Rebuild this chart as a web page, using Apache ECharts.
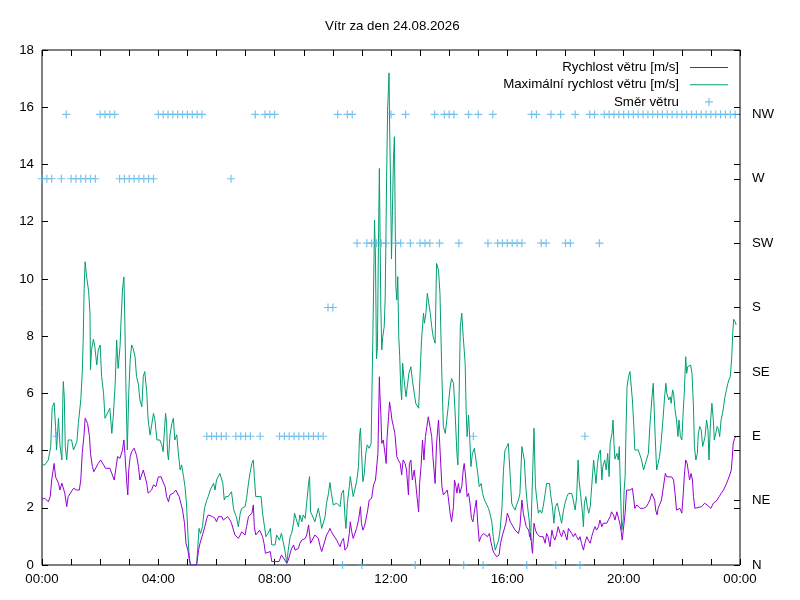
<!DOCTYPE html>
<html>
<head>
<meta charset="utf-8">
<title>Vítr za den 24.08.2026</title>
<script src="https://cdn.jsdelivr.net/npm/echarts@6/dist/echarts.min.js"></script>
<style>
    html, body { margin: 0; padding: 0; background: #fff; }
    #vitr { width: 800px; height: 600px; }
</style>
</head>
<body>
<div id="vitr"></div>
<script>
// ---- data (minute of day, m/s) -----------------------------------------
var avgSpeed = [
    [0, 2.3], [6, 2.33], [13, 2.21], [17, 2.39], [20, 2.97], [25, 3.55], [28, 3.08], [34, 2.86],
    [37, 2.62], [41, 2.86], [44, 2.86], [47, 2.51], [51, 2.04], [54, 2.39], [58, 2.45], [65, 2.68],
    [72, 2.62], [77, 2.62], [80, 2.97], [83, 3.9], [87, 4.6], [89, 5.13], [94, 4.95], [98, 4.49],
    [100, 3.9], [104, 3.44], [107, 3.26], [111, 3.2], [116, 3.55], [121, 3.67], [127, 3.5], [131, 3.38],
    [140, 3.38], [144, 3.2], [149, 2.97], [153, 3.44], [156, 3.79], [161, 3.73], [166, 4.02], [169, 4.37],
    [171, 3.9], [175, 2.86], [177, 2.45], [179, 3.32], [182, 3.79], [185, 3.96], [190, 4.08], [195, 3.84],
    [199, 3.44], [202, 2.97], [206, 3.03], [209, 3.32], [212, 3.32], [216, 2.86], [219, 2.51], [226, 2.62],
    [230, 2.8], [235, 2.74], [240, 3.08], [246, 3.08], [248, 2.97], [254, 2.74], [257, 2.39], [261, 2.21],
    [264, 2.45], [271, 2.51], [276, 2.62], [279, 2.68], [283, 2.39], [287, 2.33], [290, 1.92], [294, 1.46],
    [297, 0.76], [301, 0.52], [304, 0.17], [307, 0], [319, 0], [323, 0.52], [326, 0.76], [330, 0.99],
    [333, 1.16], [336, 1.34], [340, 1.63], [343, 1.75], [347, 1.75], [352, 1.69], [357, 1.63], [360, 1.51],
    [364, 1.69], [367, 1.75], [371, 1.69], [374, 1.57], [378, 1.51], [383, 1.69], [388, 1.57], [391, 1.46],
    [395, 1.22], [398, 1.05], [401, 0.99], [405, 0.93], [409, 1.05], [412, 1.16], [416, 1.11], [419, 1.05],
    [422, 1.34], [426, 1.69], [429, 1.63], [433, 1.81], [436, 2.1], [438, 1.34], [441, 1.05], [445, 1.11],
    [449, 1.22], [452, 1.28], [455, 0.99], [458, 0.76], [461, 0.41], [471, 0.47], [474, 0.12], [489, 0.12],
    [494, 0.35], [501, 0.17], [505, 0.06], [508, 0.17], [512, 0.41], [515, 0.58], [519, 0.7], [522, 0.52],
    [525, 0.47], [529, 0.58], [532, 0.76], [536, 0.87], [543, 0.93], [546, 1.05], [550, 1.4], [552, 1.46],
    [554, 0.76], [558, 0.7], [563, 1.05], [567, 1.1], [570, 0.93], [574, 0.64], [577, 0.47], [580, 0.64],
    [584, 0.87], [587, 1.05], [591, 1.16], [594, 1.28], [597, 1.16], [601, 1.05], [604, 0.99], [608, 0.87],
    [611, 0.76], [615, 0.64], [618, 0.82], [622, 0.93], [625, 0.52], [627, 0.47], [630, 0.64], [634, 1.1],
    [636, 1.51], [639, 1.16], [642, 0.93], [646, 0.99], [649, 1.28], [653, 1.57], [657, 2.04], [659, 1.46],
    [662, 1.22], [665, 1.34], [668, 1.57], [672, 1.92], [675, 2.27], [680, 2.33], [684, 2.8], [688, 2.97],
    [691, 3.03], [693, 3.9], [695, 5.65], [696, 6.58], [697, 6.0], [699, 5.3], [701, 4.25], [704, 4.37],
    [708, 3.84], [710, 3.55], [712, 4.49], [715, 5.18], [717, 5.7], [719, 5.48], [722, 5.07], [725, 4.84],
    [728, 4.6], [732, 3.79], [735, 3.67], [739, 3.55], [742, 3.15], [745, 3.67], [749, 3.55], [752, 3.32],
    [756, 2.45], [758, 3.55], [761, 3.67], [764, 2.97], [768, 3.32], [771, 2.85], [775, 2.16], [777, 1.86],
    [779, 2.85], [782, 3.44], [785, 4.37], [788, 3.67], [791, 4.49], [794, 4.84], [797, 5.18], [800, 5.24],
    [804, 4.49], [807, 3.67], [811, 2.85], [814, 4.25], [818, 5.07], [821, 5.13], [825, 2.74], [828, 2.45],
    [832, 2.51], [836, 2.62], [838, 2.39], [842, 1.81], [845, 1.51], [849, 2.04], [851, 2.97], [854, 2.74],
    [856, 2.51], [859, 2.85], [862, 2.51], [866, 2.74], [869, 3.32], [871, 3.55], [874, 3.08], [877, 2.39],
    [880, 2.51], [883, 2.16], [886, 1.63], [889, 1.51], [893, 1.98], [896, 2.27], [899, 1.46], [902, 0.82],
    [906, 1.0], [911, 1.1], [915, 1.1], [919, 0.99], [923, 1.1], [926, 0.82], [930, 0.52], [933, 0.41],
    [938, 0.29], [943, 0.35], [946, 0.76], [950, 1.05], [953, 1.22], [957, 1.46], [960, 1.81], [964, 1.63],
    [966, 1.51], [969, 1.46], [972, 1.34], [976, 1.22], [979, 1.16], [983, 1.1], [986, 1.34], [990, 2.27],
    [993, 1.81], [996, 1.57], [999, 1.34], [1004, 1.22], [1006, 0.99], [1008, 1.1], [1011, 0.52], [1012, 0.41],
    [1015, 1.46], [1018, 1.22], [1021, 1.1], [1027, 0.99], [1034, 0.99], [1038, 0.76], [1041, 1.1], [1044, 0.99],
    [1048, 0.64], [1052, 1.22], [1055, 0.99], [1058, 0.87], [1062, 1.1], [1065, 1.34], [1069, 1.1], [1072, 0.99],
    [1076, 1.22], [1079, 1.1], [1083, 0.87], [1086, 1.28], [1089, 1.28], [1093, 1.1], [1096, 0.99], [1100, 1.1],
    [1103, 0.99], [1107, 0.87], [1110, 0.99], [1113, 0.76], [1117, 0.52], [1120, 0.76], [1124, 0.99], [1127, 0.87],
    [1131, 0.76], [1134, 0.99], [1138, 1.22], [1141, 1.34], [1144, 1.22], [1148, 1.34], [1151, 1.57], [1155, 1.34],
    [1158, 1.46], [1162, 1.51], [1165, 1.46], [1169, 1.51], [1172, 1.69], [1175, 1.86], [1179, 1.75], [1182, 1.57],
    [1186, 1.86], [1189, 1.86], [1192, 1.46], [1195, 1.16], [1197, 0.87], [1200, 0.87], [1203, 1.81], [1206, 2.62],
    [1213, 2.62], [1218, 2.68], [1221, 2.27], [1223, 1.98], [1227, 2.1], [1234, 1.98], [1241, 1.98], [1247, 2.04],
    [1251, 2.16], [1254, 2.27], [1258, 2.5], [1261, 2.56], [1264, 2.27], [1266, 1.92], [1269, 1.75], [1271, 1.98],
    [1274, 2.1], [1278, 2.27], [1281, 2.62], [1286, 3.2], [1289, 3.08], [1299, 3.08], [1303, 2.97], [1306, 2.5],
    [1309, 1.92], [1313, 1.86], [1316, 1.98], [1320, 1.81], [1323, 2.5], [1325, 3.08], [1328, 3.67], [1331, 3.55],
    [1334, 3.2], [1336, 2.97], [1339, 3.2], [1342, 2.97], [1344, 2.39], [1347, 1.98], [1361, 2.04], [1367, 2.16],
    [1372, 2.1], [1376, 2.04], [1380, 1.98], [1385, 2.16], [1389, 2.21], [1393, 2.27], [1397, 2.39], [1401, 2.5],
    [1406, 2.62], [1411, 2.8], [1415, 2.97], [1419, 3.15], [1422, 3.32], [1424, 3.73], [1426, 4.25], [1429, 4.43],
    [1432, 4.49]
];

var maxSpeed = [
    [0, 3.5], [6, 3.5], [13, 3.67], [18, 4.14], [21, 5.5], [25, 5.67], [28, 4.84], [30, 4.02],
    [34, 5.13], [37, 4.2], [41, 3.67], [43, 5.77], [44, 6.41], [46, 5.85], [48, 4.14], [51, 3.67],
    [54, 4.37], [61, 4.37], [65, 4.02], [72, 4.31], [75, 4.95], [80, 5.77], [83, 6.7], [85, 7.86],
    [87, 9.67], [89, 10.6], [92, 10.07], [96, 9.6], [99, 8.8], [100, 6.82], [102, 7.5], [106, 7.89],
    [109, 7.63], [113, 6.99], [116, 7.51], [120, 7.69], [123, 6.59], [127, 6.0], [130, 5.13], [133, 5.07],
    [140, 5.48], [144, 4.6], [147, 5.18], [151, 6.35], [154, 7.86], [157, 6.87], [161, 7.63], [163, 8.5],
    [166, 9.61], [169, 10.07], [171, 8.45], [173, 6.35], [176, 4.02], [179, 6.0], [182, 7.2], [185, 7.69],
    [188, 7.57], [192, 7.28], [195, 6.59], [199, 6.3], [202, 5.77], [206, 5.53], [209, 6.59], [212, 6.76],
    [216, 6.06], [219, 5.07], [223, 4.54], [226, 4.49], [230, 5.3], [233, 5.07], [237, 4.37], [243, 4.37],
    [247, 4.2], [250, 3.96], [252, 4.55], [255, 5.3], [257, 4.95], [259, 3.9], [261, 3.67], [264, 4.54],
    [268, 4.95], [271, 5.13], [274, 4.37], [278, 4.55], [281, 3.96], [285, 3.32], [288, 3.5], [292, 3.09],
    [295, 2.74], [298, 2.16], [301, 1.1], [303, 0.47], [306, 0], [319, 0], [321, 0.52], [324, 1.28],
    [327, 1.1], [331, 1.34], [334, 1.81], [336, 2.04], [340, 2.27], [343, 2.39], [347, 2.62], [350, 2.62],
    [354, 2.86], [357, 2.62], [360, 2.97], [364, 3.03], [367, 3.2], [371, 3.26], [373, 2.86], [376, 2.27],
    [379, 2.39], [384, 2.39], [388, 2.45], [391, 2.56], [395, 1.98], [398, 1.81], [401, 1.69], [405, 1.34],
    [409, 1.81], [412, 1.98], [419, 2.04], [422, 2.33], [426, 2.86], [429, 3.2], [433, 3.55], [436, 3.67],
    [438, 3.09], [441, 2.39], [452, 2.39], [455, 1.81], [459, 1.34], [462, 0.99], [468, 1.16], [471, 1.28],
    [474, 0.7], [481, 0.7], [484, 1.05], [490, 0.87], [494, 1.11], [498, 1.05], [501, 0.52], [505, 0.06],
    [508, 0.52], [512, 0.99], [515, 1.11], [519, 1.46], [521, 1.81], [524, 1.63], [529, 1.34], [532, 1.75],
    [536, 1.51], [539, 1.75], [543, 1.63], [546, 2.16], [550, 2.86], [552, 3.09], [554, 1.86], [557, 1.75],
    [563, 1.51], [567, 1.57], [570, 1.98], [574, 1.63], [577, 1.28], [580, 1.34], [584, 1.69], [587, 2.16],
    [591, 2.5], [594, 2.88], [597, 2.5], [601, 2.1], [608, 2.16], [615, 2.04], [618, 2.5], [622, 2.62],
    [625, 1.69], [627, 1.28], [630, 2.16], [634, 2.74], [636, 3.09], [639, 2.74], [642, 2.39], [646, 2.39],
    [649, 2.91], [653, 3.44], [655, 4.49], [657, 4.78], [659, 4.03], [662, 2.91], [665, 3.2], [668, 3.9],
    [671, 4.2], [675, 4.08], [679, 4.25], [681, 6.35], [684, 9.5], [686, 12.06], [688, 10.7], [690, 7.2],
    [692, 7.6], [694, 11.1], [696, 13.86], [697, 12.24], [699, 9.03], [701, 7.52], [703, 7.98], [706, 8.33],
    [708, 9.3], [711, 13.57], [713, 15.9], [716, 17.2], [717, 15.55], [719, 13.46], [721, 10.7], [723, 12.4],
    [725, 14.16], [727, 14.97], [728, 13.17], [730, 9.73], [732, 9.26], [734, 10.08], [736, 7.98], [738, 7.28],
    [740, 6.23], [742, 5.77], [744, 7.05], [747, 6.47], [751, 5.88], [754, 5.88], [757, 6.7], [761, 6.93],
    [764, 6.47], [768, 6.0], [771, 5.65], [777, 5.48], [780, 5.48], [783, 7.86], [787, 8.8], [789, 8.45],
    [792, 8.8], [795, 9.5], [797, 9.26], [801, 8.8], [804, 8.33], [807, 7.98], [811, 7.75], [814, 10.54],
    [818, 10.31], [821, 9.5], [825, 6.58], [828, 4.84], [832, 4.6], [836, 4.6], [838, 5.53], [842, 6.23],
    [845, 6.52], [849, 6.35], [852, 5.42], [856, 3.9], [858, 3.5], [860, 5.42], [863, 8.33], [866, 8.8],
    [869, 7.98], [873, 7.05], [875, 5.42], [877, 4.49], [880, 5.24], [883, 4.25], [885, 3.44], [888, 3.9],
    [892, 4.08], [895, 4.14], [899, 3.2], [902, 2.74], [906, 2.85], [909, 2.5], [913, 2.27], [917, 2.27],
    [921, 1.98], [924, 1.81], [928, 1.51], [931, 0.99], [935, 0.52], [938, 0.47], [942, 0.87], [945, 1.22],
    [949, 2.04], [952, 3.3], [955, 4.0], [959, 4.14], [962, 4.25], [966, 3.09], [969, 2.16], [972, 2.04],
    [976, 1.92], [979, 2.1], [983, 2.27], [986, 2.5], [990, 4.14], [992, 4.08], [995, 3.67], [998, 2.74],
    [1001, 2.16], [1005, 1.57], [1008, 0.87], [1010, 1.92], [1012, 3.09], [1015, 4.78], [1018, 2.74], [1021, 2.27],
    [1024, 1.81], [1027, 1.92], [1031, 1.81], [1034, 2.04], [1038, 2.5], [1041, 2.85], [1047, 2.85], [1049, 2.5],
    [1053, 2.04], [1056, 1.46], [1059, 2.04], [1063, 2.16], [1066, 2.21], [1069, 1.69], [1072, 1.46], [1076, 1.92],
    [1079, 2.16], [1083, 2.39], [1086, 2.5], [1089, 2.56], [1093, 2.5], [1096, 2.27], [1100, 1.92], [1103, 2.39],
    [1106, 3.67], [1108, 2.97], [1111, 2.5], [1115, 1.81], [1117, 1.34], [1119, 2.16], [1122, 2.39], [1125, 2.04],
    [1128, 1.81], [1131, 2.04], [1134, 2.74], [1138, 3.67], [1140, 3.32], [1143, 2.85], [1146, 3.55], [1149, 3.9],
    [1152, 4.02], [1155, 2.97], [1157, 3.44], [1161, 3.67], [1164, 3.32], [1167, 3.9], [1170, 3.09], [1172, 4.25],
    [1176, 4.6], [1178, 5.07], [1180, 4.25], [1182, 3.7], [1186, 3.9], [1189, 3.67], [1191, 4.14], [1193, 2.9],
    [1196, 1.22], [1199, 1.57], [1201, 2.62], [1203, 3.09], [1205, 4.84], [1207, 6.23], [1210, 6.58], [1213, 6.76],
    [1215, 6.7], [1218, 5.77], [1221, 4.84], [1223, 4.02], [1227, 4.08], [1230, 4.02], [1234, 3.96], [1237, 3.67],
    [1241, 3.32], [1244, 3.5], [1247, 3.67], [1251, 3.9], [1254, 4.84], [1258, 5.77], [1261, 6.35], [1263, 5.42],
    [1265, 4.49], [1268, 3.32], [1271, 3.55], [1274, 3.79], [1277, 4.25], [1281, 5.07], [1284, 5.77], [1287, 6.35],
    [1289, 6.0], [1293, 5.77], [1296, 5.88], [1298, 5.65], [1301, 6.12], [1303, 6.0], [1306, 5.42], [1309, 5.07],
    [1312, 4.49], [1314, 5.07], [1317, 4.49], [1320, 4.37], [1323, 5.42], [1325, 6.0], [1328, 7.28], [1330, 6.7],
    [1332, 6.93], [1335, 6.87], [1338, 6.99], [1341, 6.7], [1344, 5.53], [1346, 4.14], [1349, 3.67], [1352, 3.9],
    [1354, 4.6], [1357, 4.84], [1360, 4.72], [1363, 4.14], [1365, 4.14], [1368, 4.49], [1371, 5.07], [1374, 4.72],
    [1376, 3.67], [1379, 4.95], [1382, 5.65], [1385, 5.07], [1387, 4.37], [1390, 4.6], [1393, 4.84], [1396, 4.72],
    [1398, 4.49], [1401, 5.07], [1404, 5.3], [1406, 5.53], [1409, 5.88], [1412, 6.12], [1415, 6.35], [1417, 6.47],
    [1420, 6.58], [1423, 7.28], [1425, 8.1], [1427, 8.59], [1430, 8.5], [1432, 8.39]
];

// smer vetru, jedna hodnota za 10 minut (od 00:00)
var dirCodes = [
    "W", "W", "W", "E", "W", "NW",   "W", "W", "W", "W", "W", "W",
    "NW", "NW", "NW", "NW", "W", "W",   "W", "W", "W", "W", "W", "W",
    "NW", "NW", "NW", "NW", "NW", "NW",   "NW", "NW", "NW", "NW", "E", "E",
    "E", "E", "E", "W", "E", "E",   "E", "E", "NW", "E", "NW", "NW",
    "NW", "E", "E", "E", "E", "E",   "E", "E", "E", "E", "E", "S",
    "S", "NW", "N", "NW", "NW", "SW",   "N", "SW", "SW", "SW", "SW", "SW",
    "NW", "SW", "SW", "NW", "SW", "N",   "SW", "SW", "SW", "NW", "SW", "NW",
    "NW", "NW", "SW", "N", "NW", "E",   "NW", "N", "SW", "NW", "SW", "SW",
    "SW", "SW", "SW", "SW", "N", "NW",   "NW", "SW", "SW", "NW", "N", "NW",
    "SW", "SW", "NW", "N", "E", "NW",   "NW", "SW", "NW", "NW", "NW", "NW",
    "NW", "NW", "NW", "NW", "NW", "NW",   "NW", "NW", "NW", "NW", "NW", "NW",
    "NW", "NW", "NW", "NW", "NW", "NW",   "NW", "NW", "NW", "NW", "NW", "NW"
];
var dirStep = 10;

var dirLabels = ["N", "NE", "E", "SE", "S", "SW", "W", "NW"];
var seriesNames = ["Rychlost větru [m/s]", "Maximální rychlost větru [m/s]", "Směr větru"];

window.addEventListener("load", function () {
    var chart = echarts.init(document.getElementById("vitr"), null, { renderer: "canvas" });

    // prevod zkratky smeru na stupne (N = 0, NE = 45, ...)
    var dirData = dirCodes.map(function (code, i) {
        return [i * dirStep, dirLabels.indexOf(code) * 45];
    });

    // krizek jako u gnuplotu
    var plus = "path://M4.25,0H5.75V4.25H10V5.75H5.75V10H4.25V5.75H0V4.25H4.25Z";
    // tenka cara pro legendu
    var thinLine = "path://M0,0H40V1H0Z";

    var font = "Liberation Sans, Arial, sans-serif";
    var fs = 13.3;
    var tick = { show: true, inside: true, length: 6, lineStyle: { color: "#000", width: 1 } };
    // zadna osa se nesmi presouvat na nulu druhe osy
    var noLine = { show: false, onZero: false };

    var option = {
        animation: false,
        backgroundColor: "#fff",
        textStyle: { fontFamily: font },
        title: {
            text: "Vítr za den 24.08.2026",
            left: 320,
            top: 15,
            textStyle: { fontSize: fs, fontWeight: "normal", color: "#000", fontFamily: font }
        },
        legend: {
            orient: "vertical",
            right: 67,
            top: 56,
            align: "right",
            itemWidth: 38,
            itemHeight: 8,
            itemGap: 4.2,
            symbolKeepAspect: true,
            textStyle: { fontSize: fs, color: "#000", fontFamily: font, padding: [0, 6, 0, 0] },
            data: [
                { name: seriesNames[0], icon: thinLine },
                { name: seriesNames[1], icon: thinLine },
                { name: seriesNames[2], icon: plus, itemStyle: { color: "#56b4e9" } }
            ]
        },
        grid: {
            left: 42,
            right: 60,
            top: 50,
            bottom: 35,
            show: true,
            borderColor: "#000",
            borderWidth: 1
        },
        xAxis: [
            {
                type: "value",
                min: 0,
                max: 1440,
                interval: 60,
                axisLine: noLine,
                axisTick: tick,
                splitLine: { show: false },
                axisLabel: {
                    color: "#000",
                    fontSize: fs,
                    margin: 8,
                    formatter: function (v) {
                        if (v % 240 !== 0) return "";
                        var h = (v / 60) % 24;
                        return (h < 10 ? "0" : "") + h + ":00";
                    }
                }
            },
            {
                // zrcadlove znacky nahore
                type: "value",
                position: "top",
                min: 0,
                max: 1440,
                interval: 60,
                axisLine: noLine,
                axisTick: tick,
                splitLine: { show: false },
                axisLabel: { show: false }
            }
        ],
        yAxis: [
            {
                type: "value",
                min: 0,
                max: 18,
                interval: 2,
                axisLine: noLine,
                axisTick: tick,
                splitLine: { show: false },
                axisLabel: { color: "#000", fontSize: fs, margin: 8 }
            },
            {
                // zrcadlo leve osy vpravo
                type: "value",
                position: "right",
                min: 0,
                max: 18,
                interval: 2,
                axisLine: noLine,
                axisTick: tick,
                splitLine: { show: false },
                axisLabel: { show: false }
            },
            {
                // smer vetru
                type: "value",
                position: "right",
                min: 0,
                max: 360,
                interval: 45,
                axisLine: noLine,
                axisTick: tick,
                splitLine: { show: false },
                axisLabel: {
                    color: "#000",
                    fontSize: fs,
                    margin: 12,
                    formatter: function (v) {
                        return v < 360 ? dirLabels[v / 45] : "";
                    }
                }
            }
        ],
        series: [
            {
                name: seriesNames[0],
                type: "line",
                symbol: "none",
                color: "#9400d3",
                lineStyle: { width: 1, color: "#9400d3" },
                z: 3,
                data: avgSpeed
            },
            {
                name: seriesNames[1],
                type: "line",
                symbol: "none",
                color: "#009e73",
                lineStyle: { width: 1, color: "#009e73" },
                z: 2,
                data: maxSpeed
            },
            {
                name: seriesNames[2],
                type: "scatter",
                yAxisIndex: 2,
                symbol: plus,
                symbolSize: 8,
                symbolKeepAspect: true,
                clip: false,
                itemStyle: { color: "#56b4e9" },
                z: 4,
                data: dirData
            }
        ]
    };

    chart.setOption(option);

    window.addEventListener("resize", function () {
        chart.resize();
    });
});
</script>
</body>
</html>
